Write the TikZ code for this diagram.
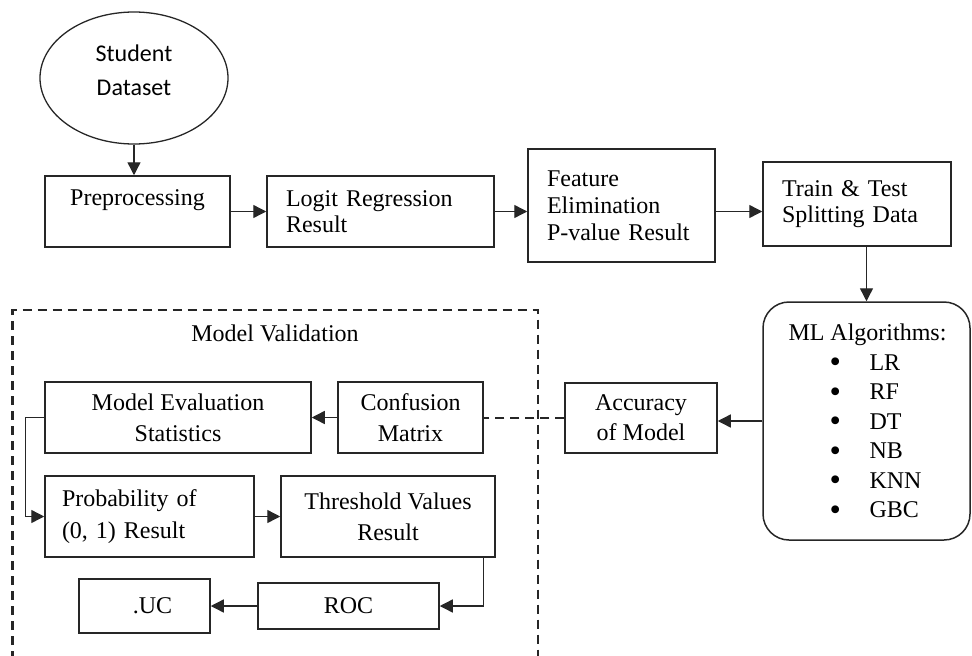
\documentclass[tikz,border=0pt]{standalone}
\usepackage{fontspec}
\setmainfont{Liberation Serif}
\newfontfamily\calibfont{Carlito}
\usetikzlibrary{arrows.meta,shapes.geometric}
\newcommand{\mlbullet}{\smash{\raisebox{-2.5pt}{\scalebox{1.35}{\textbullet}}}}
\begin{document}
\begin{tikzpicture}[x=1pt,y=-1pt,
  box/.style={draw=black!85, line width=1.5pt, rectangle, inner sep=0pt, align=center},
  lbox/.style={box, inner xsep=19pt, align=left},
  arr/.style={draw=black!85, line width=1.4pt, -{Triangle[length=13pt,width=13pt]}},
  txt/.style={font=\fontsize{24}{30}\selectfont}
]
\useasboundingbox (0,0) rectangle (972,656);

% dashed container
\draw[line width=2.4pt, dash pattern=on 9pt off 6pt, black!85] (12.5,660) -- (12.5,310) -- (538,310) -- (538,660);
\node[font=\fontsize{24}{30}\selectfont] (mv) at (275,333) {Model Validation};

% top row
\node[draw=black!85, line width=1.3pt, ellipse, minimum width=188pt, minimum height=132pt, inner sep=0pt,
  label={[yshift=8pt, align=center, font=\calibfont\fontsize{24}{34}\selectfont]center:Student\\Dataset}]
  (ds) at (134,78) {};
\node[box, minimum width=185pt, minimum height=71pt,
  label={[yshift=11pt, font=\fontsize{24}{30}\selectfont]center:Preprocessing}] (pre) at (137.5,211.5) {};
\node[lbox, text width=189pt, minimum height=71pt, font=\fontsize{24}{26}\selectfont] (logit) at (380.5,211.5) {Logit Regression\\Result};
\node[lbox, text width=149pt, minimum height=113pt, font=\fontsize{24}{27}\selectfont] (feat) at (621.5,205.5) {Feature\\Elimination\\P-value Result};
\node[lbox, text width=150pt, minimum height=84pt, font=\fontsize{24}{26}\selectfont] (train) at (857,204) {Train \& Test\\Splitting Data};

% ML algorithms
\node[box, rounded corners=26pt, minimum width=207pt, minimum height=238pt, align=left,
  font=\fontsize{24}{29.5}\selectfont] (ml) at (866.5,421)
  {\hspace*{2pt}ML Algorithms:\\
   \hspace*{43pt}\makebox[40pt][l]{\mlbullet}LR\\
   \hspace*{43pt}\makebox[40pt][l]{\mlbullet}RF\\
   \hspace*{43pt}\makebox[40pt][l]{\mlbullet}DT\\
   \hspace*{43pt}\makebox[40pt][l]{\mlbullet}NB\\
   \hspace*{43pt}\makebox[40pt][l]{\mlbullet}KNN\\
   \hspace*{43pt}\makebox[40pt][l]{\mlbullet}GBC};

\node[box, minimum width=152pt, minimum height=70pt, font=\fontsize{24}{30}\selectfont] (acc) at (641,418) {Accuracy\\of Model};

% validation boxes
\node[box, minimum width=266pt, minimum height=71pt, font=\fontsize{24}{31}\selectfont] (me) at (178,417.5) {Model Evaluation\\Statistics};
\node[box, minimum width=145pt, minimum height=71pt, font=\fontsize{24}{31}\selectfont] (conf) at (410.5,417.5) {Confusion\\Matrix};
\node[box, inner xsep=17pt, text width=175pt, align=left, minimum height=81pt, font=\fontsize{24}{32}\selectfont] (prob) at (149.5,516.5) {Probability of\\(0, 1) Result};
\node[box, minimum width=214pt, minimum height=81pt, font=\fontsize{24}{31}\selectfont] (thr) at (388,516.5) {Threshold Values\\Result};
\node[box, minimum width=181pt, minimum height=46pt, font=\fontsize{24}{30}\selectfont] (roc) at (348.5,606) {ROC};
\node[box, minimum width=131pt, minimum height=54pt, font=\fontsize{24}{30}\selectfont] (auc) at (144.5,606) {\hspace*{16pt}.UC};

% connectors
\draw[arr] (ds.south) -- (ds.south |- pre.north);
\draw[arr] (pre.east) -- (pre.east -| logit.west);
\draw[arr] (logit.east) -- (logit.east -| feat.west);
\draw[arr] (logit.east -| feat.east) -- (logit.east -| train.west);
\draw[arr] (ml.north |- train.south) -- (ml.north);
\draw[arr] (ml.west) -- (ml.west -| acc.east);
\draw[line width=2.2pt, dash pattern=on 9pt off 6pt, black!85] (acc.west) -- (acc.west -| conf.east);
\draw[arr] (conf.west) -- (conf.west -| me.east);
\draw[arr] (me.west) -- ++(-19,0) |- (prob.west);
\draw[arr] (prob.east) -- (prob.east -| thr.west);
\draw[arr] ([xshift=-12pt]thr.south east) |- (roc.east);
\draw[arr] (roc.west) -- (roc.west -| auc.east);
\end{tikzpicture}
\end{document}
